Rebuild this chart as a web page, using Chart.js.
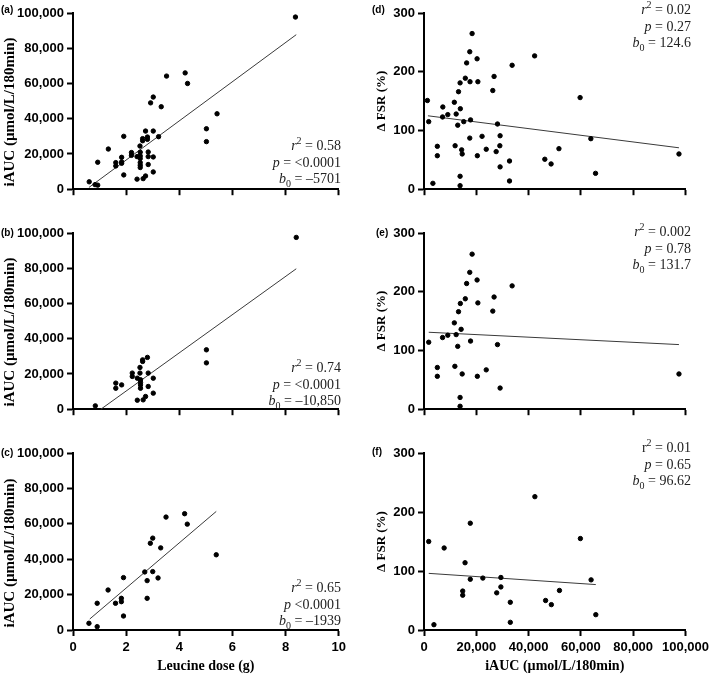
<!DOCTYPE html>
<html>
<head>
<meta charset="utf-8">
<script src="https://cdn.jsdelivr.net/npm/chart.js@4.4.1/dist/chart.umd.min.js"></script>
<style>
  body { margin: 0; width: 709px; height: 676px; overflow: hidden; background: #fff; position: relative; }
  canvas { position: absolute; }
  .lbl { position: absolute; font: bold 10px "Liberation Sans", Arial, sans-serif; line-height: 12px; color: #000; }
  .st { position: absolute; font: 14px "Liberation Serif", "Times New Roman", serif; line-height: 16.5px; text-align: right; color: #222; white-space: nowrap; }
  .st sup, .st sub { font-size: 10px; line-height: 0; }
  .yt { position: absolute; width: 200px; height: 18px; line-height: 18px; text-align: center; white-space: nowrap;
        font: bold 15px "Liberation Serif", "Times New Roman", serif; color: #000; transform: rotate(-90deg); }
</style>
</head>
<body>
<canvas id="pa" width="350" height="200" style="left:0;top:0"></canvas>
<canvas id="pb" width="350" height="200" style="left:0;top:220px"></canvas>
<canvas id="pc" width="350" height="236" style="left:0;top:440px"></canvas>
<canvas id="pd" width="341" height="200" style="left:372px;top:0"></canvas>
<canvas id="pe" width="341" height="200" style="left:372px;top:220px"></canvas>
<canvas id="pf" width="341" height="236" style="left:372px;top:440px"></canvas>

<!-- left y titles, centred at x=10 and a bit below the plot centre -->
<div class="yt" style="left:-90px;top:103px">iAUC (µmol/L/180min)</div>
<div class="yt" style="left:-90px;top:323px">iAUC (µmol/L/180min)</div>
<div class="yt" style="left:-90px;top:544px">iAUC (µmol/L/180min)</div>

<div class="lbl" style="left:1px;top:4px">(a)</div>
<div class="lbl" style="left:1px;top:227px">(b)</div>
<div class="lbl" style="left:1px;top:447px">(c)</div>
<div class="lbl" style="left:372px;top:4px">(d)</div>
<div class="lbl" style="left:376px;top:227px">(e)</div>
<div class="lbl" style="left:372px;top:446px">(f)</div>

<div class="st" style="right:368px;top:138px"><i>r</i><sup>2</sup> = 0.58<br><i>p</i> = &lt;0.0001<br><i>b</i><sub>0</sub> = –5701</div>
<div class="st" style="right:368px;top:360px"><i>r</i><sup>2</sup> = 0.74<br><i>p</i> = &lt;0.0001<br><i>b</i><sub>0</sub> = –10,850</div>
<div class="st" style="right:368px;top:580px"><i>r</i><sup>2</sup> = 0.65<br><i>p</i> &lt;0.0001<br><i>b</i><sub>0</sub> = –1939</div>
<div class="st" style="right:18px;top:2px"><i>r</i><sup>2</sup> = 0.02<br><i>p</i> = 0.27<br><i>b</i><sub>0</sub> = 124.6</div>
<div class="st" style="right:18px;top:224px"><i>r</i><sup>2</sup> = 0.002<br><i>p</i> = 0.78<br><i>b</i><sub>0</sub> = 131.7</div>
<div class="st" style="right:18px;top:440px">r<sup>2</sup> = 0.01<br><i>p</i> = 0.65<br><i>b</i><sub>0</sub> = 96.62</div>

<script>
// (a) leucine dose vs iAUC, all
const aDose = [8.37,0.61,0.83,0.93,0.93,1.33,1.61,1.61,1.83,1.83,1.83,1.91,1.91,2.2,2.2,2.41,2.41,2.52,2.53,2.53,2.53,2.53,2.53,2.53,2.62,2.62,2.64,2.73,2.73,2.8,2.8,2.83,2.83,2.83,2.92,3.02,3.02,3.02,3.02,3.22,3.32,3.52,4.22,4.31,5.02,5.02,5.42];
const aAuc = [97700,4200,2600,2300,15300,22800,15100,13200,18100,15500,14700,30000,8100,20800,19200,18500,5700,24500,21000,18900,17400,15100,13600,12300,28700,27500,6000,33000,7500,29600,28300,21100,18500,14000,49000,52300,33000,18300,9800,29800,46800,64200,66000,60000,34300,27000,42800];
const aLineX = [0.6, 8.4];
const aLineY = [1000, 87700];

// (b)
const bDose = [8.4,0.84,1.61,1.61,1.83,2.23,2.23,2.42,2.42,2.52,2.52,2.54,2.54,2.54,2.54,2.62,2.62,2.64,2.73,2.8,2.83,2.83,3.02,3.02,5.02,5.02];
const bAuc = [97500,1900,14800,11900,13800,20500,18600,17600,5100,23700,20500,16700,15200,13800,11900,27100,28000,5300,7200,29400,20500,12900,17600,9100,33700,26300];
const bLineX = [1.05, 8.4];
const bLineY = [0, 79700];

// (c)
const cDose = [0.6,0.91,0.91,1.32,1.6,1.82,1.82,1.9,1.9,2.7,2.79,2.79,2.91,3.0,3.0,3.2,3.3,3.5,4.2,4.3,5.39];
const cAuc = [3800,1900,15100,22600,15100,17900,16000,29600,7900,32800,27900,17900,49000,51900,33000,29400,46400,63800,65700,59800,42500];
const cLineX = [0.63, 5.39];
const cLineY = [6200, 67000];

// (d) iAUC vs delta FSR
const dAuc = [1300,1800,3400,5100,5100,7200,7100,9100,11600,11900,12300,12900,13200,13800,13900,13800,13800,14400,14600,15200,15800,16300,17500,17500,17600,17800,18400,20300,20600,20400,22200,23800,26300,26800,27600,28100,29000,29100,29100,32700,32700,33700,42300,46200,48600,51600,59700,63800,65600,97500];
const dFsr = [151,115,10,73,57,140,123,127,148,74,128,109,166,181,137,22,6,67,60,115,189,215,234,87,183,118,265,222,183,57,90,68,168,192,64,111,74,91,38,48,14,211,227,51,43,69,156,86,27,60];
const dLineX = [1500, 97500];
const dLineY = [125, 70.5];

// (e)
const eAuc = [1800,5100,5100,7100,9100,11600,11800,12300,12900,13200,13900,14200,13800,13800,14600,15800,16300,17500,17800,18400,20300,20600,20400,23800,26300,26800,28100,29100,33700,97500];
const eFsr = [114,71,56,122,126,147,73,127,107,166,180,136,20,5,60,188,214,233,116,264,220,181,56,67,167,191,110,36,210,60];
const eLineX = [1800, 97500];
const eLineY = [131, 110];

// (f)
const fAuc = [1800,3800,7700,14800,14800,15700,17700,17700,22500,27800,29400,29400,33000,33000,42400,46500,48700,51800,59800,63900,65700];
const fFsr = [150,9,139,66,59,114,181,86,88,63,89,73,47,13,226,50,43,67,155,85,26];
const fLineX = [1800, 65700];
const fLineY = [96, 77];

const doseTicks = [0, 10, 2];
const aucTicks = [0, 100000, 20000];
const fsrTicks = [0, 300, 100];

const blk = '#000';
const sansBold = { family: '"Liberation Sans", Arial, sans-serif', size: 13, weight: 'bold' };
const serif = 'Liberation Serif, Times New Roman, serif';
const fmt = v => Number(v).toLocaleString('en-US');

function pts(xs, ys) { return xs.map((x, i) => ({ x: x, y: ys[i] })); }

function scale(rng, isX, showLabels, title, titleSize, fitSize) {
    return {
        type: 'linear',
        min: rng[0], max: rng[1],
        // labels stay on so tick marks are drawn; hidden ones are just transparent
        ticks: { stepSize: rng[2], color: showLabels ? blk : 'transparent', padding: isX ? 4 : 3, maxRotation: 0, font: sansBold, callback: fmt },
        grid: { drawOnChartArea: false, drawTicks: true, tickLength: 6, tickWidth: 2, tickColor: blk },
        border: { color: blk, width: 2 },
        title: { display: !!title, text: title || '', color: blk, padding: { top: 2, bottom: 1 },
                 font: { family: serif, size: titleSize, weight: 'bold' } },
        afterFit: s => { if (isX) s.height = fitSize; else s.width = fitSize; }
    };
}

function panel(id, xs, ys, lx, ly, xr, yr, yTitle, yWidth, xTitle, padRight) {
    const bottom = !!xTitle;
    new Chart(document.getElementById(id), {
        type: 'scatter',
        data: {
            datasets: [
                { data: pts(xs, ys), backgroundColor: blk, borderColor: blk, pointRadius: 2.2, pointHoverRadius: 2.2, clip: false },
                { type: 'line', data: pts(lx, ly), borderColor: '#3a3a3a', borderWidth: 1, pointRadius: 0, fill: false, clip: false }
            ]
        },
        options: {
            responsive: false,
            animation: false,
            layout: { padding: { top: 13, right: padRight, left: 0, bottom: 0 } },
            plugins: { legend: { display: false }, tooltip: { enabled: false } },
            scales: {
                x: scale(xr, true, bottom, xTitle, 14, bottom ? 46 : 10),
                y: scale(yr, false, true, yTitle, 13, yWidth)
            }
        }
    });
}

const aucTitle = 'iAUC (\u00b5mol/L/180min)';
const fsrTitle = '\u0394 FSR (%)';

panel('pa', aDose, aAuc, aLineX, aLineY, doseTicks, aucTicks, null, 73, null, 11);
panel('pb', bDose, bAuc, bLineX, bLineY, doseTicks, aucTicks, null, 73, null, 11);
panel('pc', cDose, cAuc, cLineX, cLineY, doseTicks, aucTicks, null, 73, 'Leucine dose (g)', 11);
panel('pd', dAuc, dFsr, dLineX, dLineY, aucTicks, fsrTicks, fsrTitle, 52, null, 25);
panel('pe', eAuc, eFsr, eLineX, eLineY, aucTicks, fsrTicks, fsrTitle, 52, null, 25);
panel('pf', fAuc, fFsr, fLineX, fLineY, aucTicks, fsrTicks, fsrTitle, 52, aucTitle, 25);
</script>
</body>
</html>
